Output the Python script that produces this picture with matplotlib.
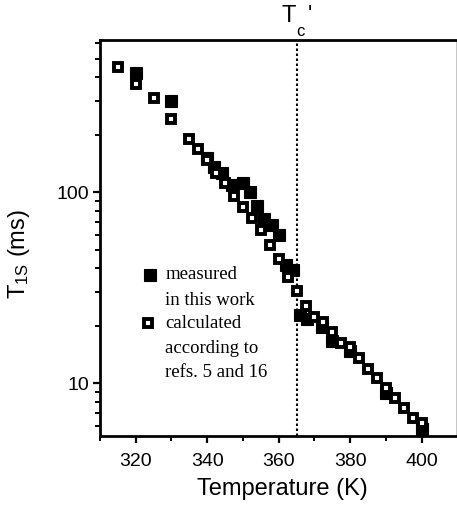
import matplotlib
matplotlib.use("Agg")
import matplotlib.pyplot as plt
from matplotlib.ticker import LogLocator, NullFormatter, FixedLocator, FixedFormatter

plt.rcParams['font.family'] = ['Liberation Sans', 'DejaVu Sans']
plt.rcParams['mathtext.fontset'] = 'custom'
plt.rcParams['mathtext.rm'] = 'Liberation Sans'
plt.rcParams['mathtext.it'] = 'Liberation Sans:italic'
plt.rcParams['mathtext.default'] = 'regular'

# measured in this work (filled squares)
meas_T = [320, 330, 340, 342, 344, 347, 350, 352, 354, 356, 358, 360,
          362, 364, 366, 368, 372, 375, 380, 390, 400]
meas_T1s = [420, 299, 150, 135, 126, 109, 111, 100, 84.5, 72, 67, 60,
            41.5, 39, 22.8, 21.6, 19.6, 16.6, 14.7, 8.9, 5.8]

# calculated according to refs. 5 and 16 (open squares)
calc_T = [315, 320, 325, 330, 335, 337.5, 340, 342.5, 345, 347.5, 350, 352.5,
          355, 357.5, 360, 362.5, 365, 367.5, 370, 372.5, 375, 377.5, 380,
          382.5, 385, 387.5, 390, 392.5, 395, 397.5, 400]
calc_T1s = [451, 367, 310, 241, 189, 168, 148, 126, 111, 96, 83.5, 73,
            63, 53, 44.6, 36, 30.3, 25.3, 22.2, 21.0, 18.5, 16.2, 15.5,
            13.6, 11.9, 10.6, 9.5, 8.4, 7.4, 6.6, 6.2]

Tc_prime = 365
xticks = [320, 340, 360, 380, 400]
yticks = [10, 100]

fig = plt.figure(figsize=(4.57, 5.08), dpi=100)
ax = fig.add_axes([100/457, 1-436/508, 356/457, 396/508])

ax.plot(calc_T, calc_T1s, linestyle='none', marker='s', ms=6.4, mew=2.8,
        mfc='white', mec='black', zorder=3)
ax.plot(meas_T, meas_T1s, linestyle='none', marker='s', ms=8.4, mew=0.8,
        mfc='black', mec='black', zorder=2)

ax.axvline(Tc_prime, color='black', linestyle=(0, (1.2, 1.2)), lw=1.5, zorder=1)

ax.set_yscale('log')
ax.set_xlim(310, 409.6)
ax.set_ylim(5.3, 625)

ax.xaxis.set_major_locator(FixedLocator(xticks))
ax.xaxis.set_minor_locator(FixedLocator([310, 330, 350, 370, 390]))
ax.yaxis.set_major_locator(FixedLocator(yticks))
ax.yaxis.set_major_formatter(FixedFormatter([str(v) for v in yticks]))
ax.yaxis.set_minor_locator(LogLocator(base=10, subs=range(2, 10)))
ax.yaxis.set_minor_formatter(NullFormatter())

for s in ['left', 'top', 'bottom']:
    ax.spines[s].set_linewidth(2.0)
ax.spines['right'].set_linewidth(0.6)
ax.spines['right'].set_color('#bbbbbb')

ax.tick_params(axis='both', which='major', direction='out', length=5, width=1.6,
               labelsize=14)
ax.tick_params(axis='x', which='major', pad=7)
ax.tick_params(axis='y', which='major', pad=3)
ax.tick_params(axis='both', which='minor', direction='out', length=3.5, width=1.4)
ax.tick_params(top=False, right=False, which='both')

ax.set_xlabel('Temperature (K)', fontsize=17)
ax.xaxis.set_label_coords(0.511, -0.105)
ax.set_ylabel('T$_{1S}$ (ms)', fontsize=17)
ax.yaxis.set_label_coords(-0.19, 0.46)

# legend drawn manually
ax.plot([0.140], [0.407], transform=ax.transAxes, marker='s', ms=8.4, mew=0.8,
        mfc='black', mec='black', linestyle='none', clip_on=False)
ax.plot([0.136], [0.285], transform=ax.transAxes, marker='s', ms=6.4, mew=2.8,
        mfc='white', mec='black', linestyle='none', clip_on=False)
serif = ['Liberation Serif', 'DejaVu Serif']
lines = [('measured', 0.407), ('in this work', 0.343),
         ('calculated', 0.285), ('according to', 0.222), ('refs. 5 and 16', 0.160)]
for txt, yy in lines:
    ax.text(0.183, yy, txt, transform=ax.transAxes, fontsize=13.5,
            family=serif, va='center', ha='left')

# T_c' label
fig.text(289/457, 1-16/508, 'T', fontsize=17, ha='center', va='center')
fig.text(300/457, 1-32/508, 'c', fontsize=12, ha='center', va='center')
fig.text(310/457, 1-14/508, "'", fontsize=16, ha='center', va='center')

fig.savefig('out.png', dpi=100)
